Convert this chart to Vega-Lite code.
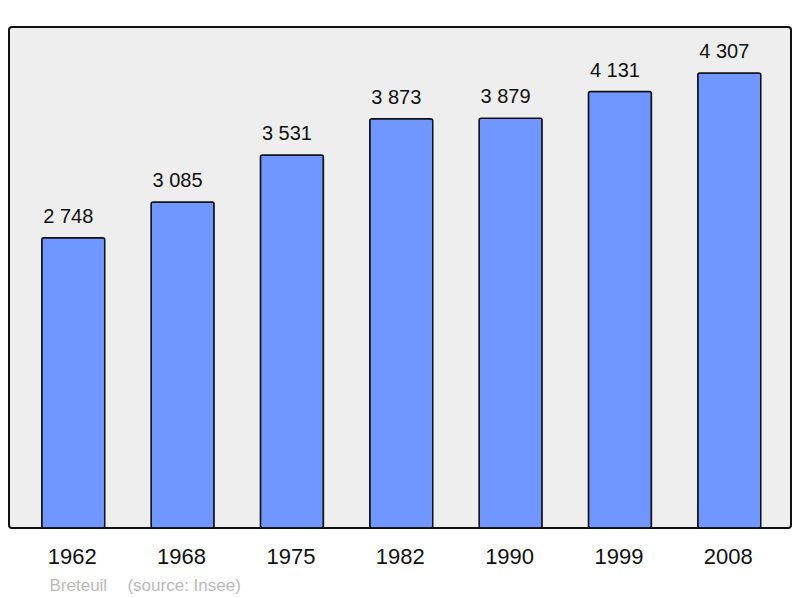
{
  "$schema": "https://vega.github.io/schema/vega-lite/v6.json",
  "width": 782,
  "height": 501,
  "autosize": "none",
  "padding": {"left": 9, "top": 27, "right": 9, "bottom": 70},
  "background": "white",
  "config": {
    "font": "Liberation Sans",
    "view": {"fill": "#eeeeee", "stroke": "#111111", "strokeWidth": 2, "cornerRadius": 3}
  },
  "data": {
    "values": [
      {"year": "1962", "pop": 2748, "label": "2 748"},
      {"year": "1968", "pop": 3085, "label": "3 085"},
      {"year": "1975", "pop": 3531, "label": "3 531"},
      {"year": "1982", "pop": 3873, "label": "3 873"},
      {"year": "1990", "pop": 3879, "label": "3 879"},
      {"year": "1999", "pop": 4131, "label": "4 131"},
      {"year": "2008", "pop": 4307, "label": "4 307"}
    ]
  },
  "encoding": {
    "x": {
      "field": "year",
      "type": "nominal",
      "sort": null,
      "scale": {"paddingInner": 0.424, "paddingOuter": 0.288, "align": 0.52},
      "axis": {
        "labelAngle": 0,
        "labelFontSize": 22,
        "labelColor": "#111111",
        "labelPadding": 18,
        "labelOffset": -1,
        "ticks": false,
        "tickSize": 0,
        "domain": false,
        "title": "Breteuil\u00a0\u00a0\u00a0\u00a0\u200a(source: Insee)",
        "titleFontSize": 17,
        "titleFontWeight": "normal",
        "titleColor": "#bbbbbb",
        "titleAnchor": "start",
        "titleAlign": "left",
        "titleBaseline": "alphabetic",
        "titleX": 40,
        "titleY": 62
      }
    },
    "y": {
      "field": "pop",
      "type": "quantitative",
      "scale": {"domain": [0, 4742], "nice": false},
      "axis": null
    }
  },
  "layer": [
    {
      "mark": {"type": "bar", "color": "#7096ff", "stroke": "#111111", "strokeWidth": 1.5, "cornerRadius": 2}
    },
    {
      "mark": {"type": "text", "fontSize": 20, "color": "#111111", "baseline": "alphabetic", "dy": -15, "dx": -5},
      "encoding": {"text": {"field": "label"}}
    }
  ]
}
